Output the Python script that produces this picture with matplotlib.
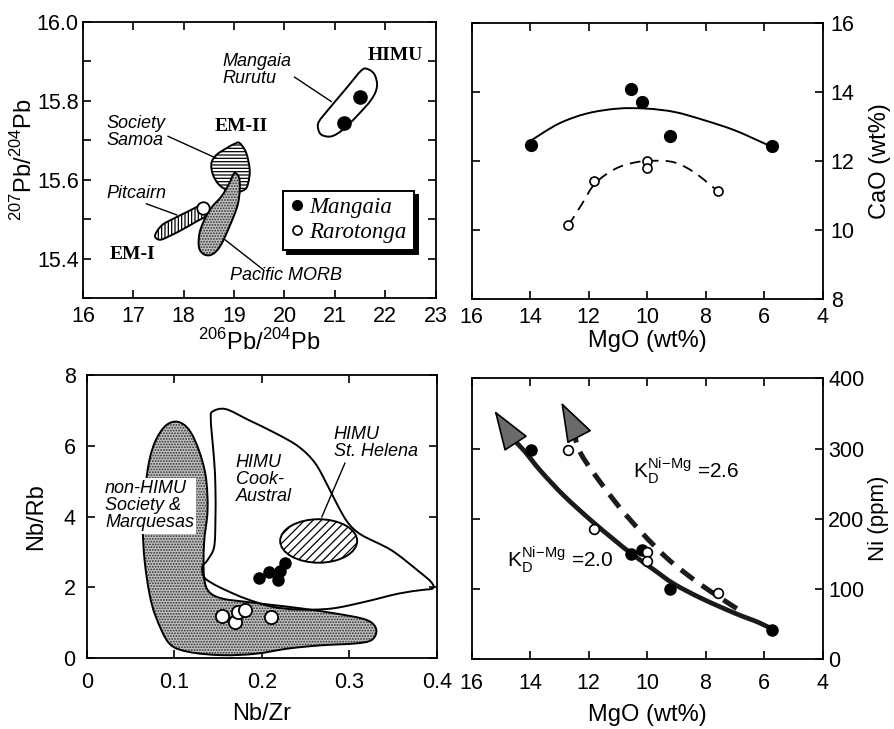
import matplotlib.pyplot as plt
import numpy as np
from matplotlib.path import Path
from matplotlib.patches import PathPatch, Ellipse
from matplotlib.lines import Line2D

plt.rcParams['font.family'] = ['Liberation Sans', 'DejaVu Sans']
plt.rcParams['hatch.linewidth'] = 0.9
plt.rcParams['axes.linewidth'] = 1.3

# ---------------- panel a: Pb isotopes ----------------
mangaia_pb206 = [21.18, 21.50]
mangaia_pb207 = [15.745, 15.810]
rarotonga_pb206 = [18.39]
rarotonga_pb207 = [15.528]

himu_x = [20.687, 20.866, 21.229, 21.527, 21.658, 21.790, 21.836, 21.724, 21.427, 21.162,
          20.932, 20.733, 20.666]
himu_y = [15.748, 15.777, 15.832, 15.877, 15.880, 15.866, 15.836, 15.803, 15.760, 15.727,
          15.710, 15.714, 15.731]
em2_x = [19.11, 19.24, 19.31, 19.28, 19.21, 18.98, 18.72, 18.58, 18.55, 18.65, 18.85, 19.01]
em2_y = [15.693, 15.668, 15.625, 15.592, 15.575, 15.568, 15.585, 15.613, 15.642, 15.663, 15.680, 15.691]
morb_x = [19.01, 19.11, 19.08, 18.91, 18.72, 18.55, 18.39, 18.30, 18.33, 18.52, 18.75, 18.90]
morb_y = [15.617, 15.598, 15.541, 15.482, 15.431, 15.410, 15.412, 15.431, 15.473, 15.524, 15.558, 15.590]
em1_x = [17.43, 17.56, 17.79, 18.06, 18.32, 18.45, 18.47, 18.25, 17.99, 17.73, 17.53]
em1_y = [15.458, 15.484, 15.501, 15.518, 15.534, 15.531, 15.511, 15.494, 15.475, 15.458, 15.448]

# ---------------- panel b: CaO vs MgO ----------------
mangaia_mgo = [13.97, 10.56, 10.19, 9.22, 5.74]
mangaia_cao = [12.47, 14.07, 13.71, 12.73, 12.43]
rarotonga_mgo = [12.69, 11.80, 10.02, 10.02, 7.58]
rarotonga_cao = [10.13, 11.41, 12.00, 11.80, 11.12]
cao_fit_mgo = [14.0, 13.03, 12.05, 10.99, 10.02, 9.05, 8.03, 7.0, 6.01, 5.76]
cao_fit_cao = [12.57, 13.07, 13.37, 13.51, 13.51, 13.41, 13.17, 12.88, 12.51, 12.42]
cao_fit2_mgo = [12.69, 12.24, 11.78, 11.10, 10.42, 9.74, 9.06, 8.38, 7.58]
cao_fit2_cao = [10.13, 10.73, 11.34, 11.76, 11.95, 12.00, 11.95, 11.66, 11.12]

# ---------------- panel c: Nb/Rb vs Nb/Zr ----------------
mangaia_nbzr = [0.197, 0.208, 0.219, 0.221, 0.227]
mangaia_nbrb = [2.27, 2.44, 2.20, 2.45, 2.68]
rarotonga_nbzr = [0.154, 0.169, 0.173, 0.181, 0.211]
rarotonga_nbrb = [1.20, 1.03, 1.29, 1.36, 1.17]

nonhimu_x = [0.0943, 0.117, 0.155, 0.193, 0.231, 0.2685, 0.3065, 0.325, 0.331, 0.327,
             0.314, 0.284, 0.246, 0.2156, 0.1815, 0.155, 0.1398, 0.134, 0.134, 0.138,
             0.136, 0.128, 0.117, 0.104, 0.0905, 0.079, 0.0716, 0.066, 0.064, 0.066,
             0.0716, 0.079]
nonhimu_y = [0.41, 0.17, 0.08, 0.12, 0.27, 0.36, 0.41, 0.50, 0.74, 0.97,
             1.12, 1.26, 1.40, 1.49, 1.59, 1.68, 1.87, 2.29, 3.24, 4.18,
             5.13, 5.88, 6.45, 6.68, 6.58, 6.17, 5.60, 4.66, 3.71, 2.77,
             1.82, 1.16]
cook_x = [0.1436, 0.1587, 0.185, 0.2155, 0.242, 0.261, 0.276, 0.2875, 0.299, 0.314,
          0.348, 0.378, 0.3935, 0.3955, 0.382, 0.356, 0.318, 0.280, 0.242, 0.2117,
          0.1815, 0.1587, 0.1436, 0.134, 0.132, 0.138, 0.1455, 0.147, 0.147, 0.1455,
          0.1428, 0.1417]
cook_y = [6.97, 7.04, 6.73, 6.36, 5.98, 5.51, 4.84, 4.28, 3.81, 3.48,
          3.05, 2.48, 2.15, 1.97, 1.92, 1.82, 1.59, 1.40, 1.37, 1.45,
          1.68, 1.92, 2.11, 2.29, 2.58, 2.77, 3.14, 3.90, 4.84, 5.60,
          6.36, 6.78]
sthelena_center = (0.265, 3.31)
sthelena_size = (0.088, 1.23)

# ---------------- panel d: Ni vs MgO ----------------
mangaia_ni = [298.5, 149.5, 155.0, 99.2, 41.3]
rarotonga_ni = [297.5, 186.0, 152.7, 140.0, 93.5]
kd20_mgo = [14.58, 14.22, 13.64, 12.85, 11.93, 11.13, 10.56, 9.76, 9.08, 8.12, 6.98, 6.18, 5.70]
kd20_ni = [313, 297.5, 268, 233, 198, 170, 151, 127, 107, 86, 65, 52, 42]
kd26_mgo = [12.50, 12.27, 11.13, 10.20, 9.30, 8.38, 7.60, 6.86]
kd26_ni = [331, 293, 226, 181, 143, 112.5, 90, 70]
kd20_tip = (15.22, 354)
kd26_tip = (12.94, 366)


def smooth_path(xs, ys, closed=False):
    # Catmull-Rom style bezier through the traced points
    p = np.column_stack([xs, ys]).astype(float)
    n = len(p)
    if closed:
        ext = np.vstack([p[-1], p, p[0], p[1]])
        nseg = n
    else:
        ext = np.vstack([p[0], p, p[-1]])
        nseg = n - 1
    verts = [p[0]]
    codes = [Path.MOVETO]
    for i in range(nseg):
        p0, p1, p2, p3 = ext[i], ext[i + 1], ext[i + 2], ext[i + 3]
        verts += [p1 + (p2 - p0) / 6, p2 - (p3 - p1) / 6, p2]
        codes += [Path.CURVE4] * 3
    if closed:
        verts.append(p[0])
        codes.append(Path.CLOSEPOLY)
    return Path(verts, codes)


def stipple(ax, path, z=2):
    ax.add_patch(PathPatch(path, facecolor='#c2c2c2', edgecolor='#2e2e2e',
                           hatch='......', lw=0, zorder=z))
    ax.add_patch(PathPatch(path, fill=False, edgecolor='k', lw=1.4, zorder=z + 0.1))


def curve(ax, xs, ys, **kw):
    ax.add_patch(PathPatch(smooth_path(xs, ys), fill=False, capstyle='butt', **kw))


def setup_ticks(ax, right=False):
    ax.tick_params(which='both', direction='in', top=True, right=True, left=True,
                   length=6, width=1.2, labelsize=15.5, pad=6)
    if right:
        ax.yaxis.tick_right()
        ax.yaxis.set_label_position('right')
        ax.tick_params(which='both', left=True, right=True, direction='in')


fig = plt.figure(figsize=(8.95, 7.29), dpi=100)
ax_a = fig.add_axes([0.0927, 0.591, 0.394, 0.379])
ax_b = fig.add_axes([0.527, 0.590, 0.392, 0.379])
ax_c = fig.add_axes([0.097, 0.0974, 0.391, 0.388])
ax_d = fig.add_axes([0.527, 0.096, 0.392, 0.385])

ital = dict(style='italic', fontsize=13)
serif_b = dict(family='Liberation Serif', weight='bold', fontsize=14)

# ---- a
ax = ax_a
ax.add_patch(PathPatch(smooth_path(himu_x, himu_y, True), fill=False, ec='k', lw=1.4, zorder=2))
ax.add_patch(PathPatch(smooth_path(em2_x, em2_y, True), fc='white', ec='k', hatch='-----',
                       lw=1.4, zorder=2))
stipple(ax, smooth_path(morb_x, morb_y, True), z=3)
ax.add_patch(PathPatch(smooth_path(em1_x, em1_y, True), fc='white', ec='k', hatch='|||||',
                       lw=1.4, zorder=2))
ax.plot(mangaia_pb206, mangaia_pb207, 'o', color='k', ms=9.5, zorder=5)
ax.plot(rarotonga_pb206, rarotonga_pb207, 'o', mfc='white', mec='k', mew=1.3, ms=9, zorder=5)

ax.text(18.76, 15.878, 'Mangaia\nRurutu', ha='left', va='center', linespacing=1.0, **ital)
ax.plot([20.20, 20.93], [15.860, 15.798], color='k', lw=1)
ax.text(22.19, 15.914, 'HIMU', ha='center', va='center', **serif_b)
ax.text(16.47, 15.720, 'Society\nSamoa', ha='left', va='center', linespacing=1.0, **ital)
ax.plot([17.69, 18.64], [15.710, 15.655], color='k', lw=1)
ax.text(19.15, 15.735, 'EM-II', ha='center', va='center', **serif_b)
ax.text(17.07, 15.566, 'Pitcairn', ha='center', va='center', **ital)
ax.plot([17.26, 17.86], [15.539, 15.511], color='k', lw=1)
ax.text(16.98, 15.41, 'EM-I', ha='center', va='center', **serif_b)
ax.text(20.04, 15.357, 'Pacific MORB', ha='center', va='center', **ital)
ax.plot([18.78, 19.58], [15.452, 15.372], color='k', lw=1)

handles = [Line2D([], [], ls='none', marker='o', color='k', ms=7),
           Line2D([], [], ls='none', marker='o', mfc='white', mec='k', mew=1.2, ms=6.5)]
leg = ax.legend(handles, ['Mangaia', 'Rarotonga'], loc='lower left',
                bbox_to_anchor=(0.567, 0.175), borderaxespad=0, fancybox=False,
                edgecolor='k', framealpha=1, handlelength=0.6, handletextpad=0.25,
                borderpad=0.3, labelspacing=0.15,
                prop=dict(family='Liberation Serif', style='italic', size=16.5),
                shadow={'ox': 3, 'oy': -3, 'facecolor': 'k', 'edgecolor': 'k', 'alpha': 1})
leg.get_frame().set_linewidth(1.4)

ax.set_xlim(16, 23)
ax.set_ylim(15.3, 16.0)
ax.set_xticks(range(16, 24))
ax.set_yticks([15.4, 15.6, 15.8, 16.0])
ax.set_yticklabels(['15.4', '15.6', '15.8', '16.0'])
ax.set_yticks([15.3, 15.5, 15.7, 15.9], minor=True)
setup_ticks(ax)
ax.tick_params(axis='y', pad=3)
ax.set_xlabel(r'$^{\mathregular{206}}$Pb/$^{\mathregular{204}}$Pb', fontsize=17, labelpad=1)
ax.set_ylabel(r'$^{\mathregular{207}}$Pb/$^{\mathregular{204}}$Pb', fontsize=17, labelpad=0)

# ---- b
ax = ax_b
curve(ax, cao_fit_mgo, cao_fit_cao, color='k', lw=1.4)
curve(ax, cao_fit2_mgo, cao_fit2_cao, color='k', lw=1.3, linestyle=(0, (6, 4)))
ax.plot(mangaia_mgo, mangaia_cao, 'o', color='k', ms=8.5, zorder=5)
ax.plot(rarotonga_mgo, rarotonga_cao, 'o', mfc='white', mec='k', mew=1.2, ms=6.5, zorder=5)
ax.set_xlim(16, 4)
ax.set_ylim(8, 16)
ax.set_xticks(range(16, 3, -2))
ax.set_yticks(range(8, 17, 2))
setup_ticks(ax, right=True)
ax.set_xlabel('MgO (wt%)', fontsize=17, labelpad=1)
ax.set_ylabel('CaO (wt%)', fontsize=17, rotation=90, labelpad=10)

# ---- c
ax = ax_c
ax.add_patch(PathPatch(smooth_path(cook_x, cook_y, True), fill=False, ec='k', lw=1.4, zorder=3))
stipple(ax, smooth_path(nonhimu_x, nonhimu_y, True), z=2)
ax.add_patch(Ellipse(sthelena_center, sthelena_size[0], sthelena_size[1], fc='white',
                     ec='k', hatch='////', lw=1.4, zorder=3))
ax.plot(mangaia_nbzr, mangaia_nbrb, 'o', color='k', ms=8, zorder=5)
ax.plot(rarotonga_nbzr, rarotonga_nbrb, 'o', mfc='white', mec='k', mew=1.3, ms=9.5, zorder=5)
ax.text(0.021, 4.30, 'non-HIMU\nSociety &\nMarquesas', ha='left', va='center',
        linespacing=1.0, zorder=6,
        bbox=dict(fc='white', ec='none', pad=1.5), **ital)
ax.text(0.170, 5.06, 'HIMU\nCook-\nAustral', ha='left', va='center', linespacing=1.0, **ital)
ax.text(0.282, 6.07, 'HIMU\nSt. Helena', ha='left', va='center', linespacing=1.0, **ital)
ax.plot([0.295, 0.2686], [5.51, 3.99], color='k', lw=1, zorder=4)
ax.set_xlim(0, 0.4)
ax.set_ylim(0, 8)
ax.set_xticks([0, 0.1, 0.2, 0.3, 0.4])
ax.set_xticklabels(['0', '0.1', '0.2', '0.3', '0.4'])
ax.set_yticks(range(0, 9, 2))
setup_ticks(ax)
ax.tick_params(axis='x', pad=10)
ax.tick_params(axis='y', pad=8)
ax.set_xlabel('Nb/Zr', fontsize=17, labelpad=7)
ax.set_ylabel('Nb/Rb', fontsize=17, labelpad=12)

# ---- d
ax = ax_d
curve(ax, kd20_mgo, kd20_ni, color='#1a1a1a', lw=3.4, zorder=3)
curve(ax, kd26_mgo, kd26_ni, color='#1a1a1a', lw=3.6, linestyle=(0, (3.2, 2.0)), zorder=3)
arrow = dict(arrowstyle='-|>,head_length=1.3,head_width=0.45', mutation_scale=20,
             fc='#6a6a6a', ec='k', lw=1.2, shrinkA=0, shrinkB=0)
ax.annotate('', xy=kd20_tip, xytext=(kd20_mgo[0], kd20_ni[0]), arrowprops=arrow, zorder=4)
ax.annotate('', xy=kd26_tip, xytext=(kd26_mgo[0], kd26_ni[0]), arrowprops=arrow, zorder=4)
ax.plot(mangaia_mgo, mangaia_ni, 'o', color='k', ms=8, zorder=5)
ax.plot(rarotonga_mgo, rarotonga_ni, 'o', mfc='white', mec='k', mew=1.2, ms=7, zorder=5)
ax.text(10.47, 269, r'K$_\mathregular{D}^\mathregular{Ni\!-\!Mg}$ =2.6', fontsize=15,
        ha='left', va='center')
ax.text(14.8, 141, r'K$_\mathregular{D}^\mathregular{Ni\!-\!Mg}$ =2.0', fontsize=15,
        ha='left', va='center')
ax.set_xlim(16, 4)
ax.set_ylim(0, 400)
ax.set_xticks(range(16, 3, -2))
ax.set_yticks(range(0, 401, 100))
setup_ticks(ax, right=True)
ax.tick_params(axis='x', pad=10)
ax.tick_params(axis='y', pad=4)
ax.set_xlabel('MgO (wt%)', fontsize=17, labelpad=7)
ax.set_ylabel('Ni (ppm)', fontsize=16, rotation=90, labelpad=3)

fig.savefig('out.png', dpi=100)
